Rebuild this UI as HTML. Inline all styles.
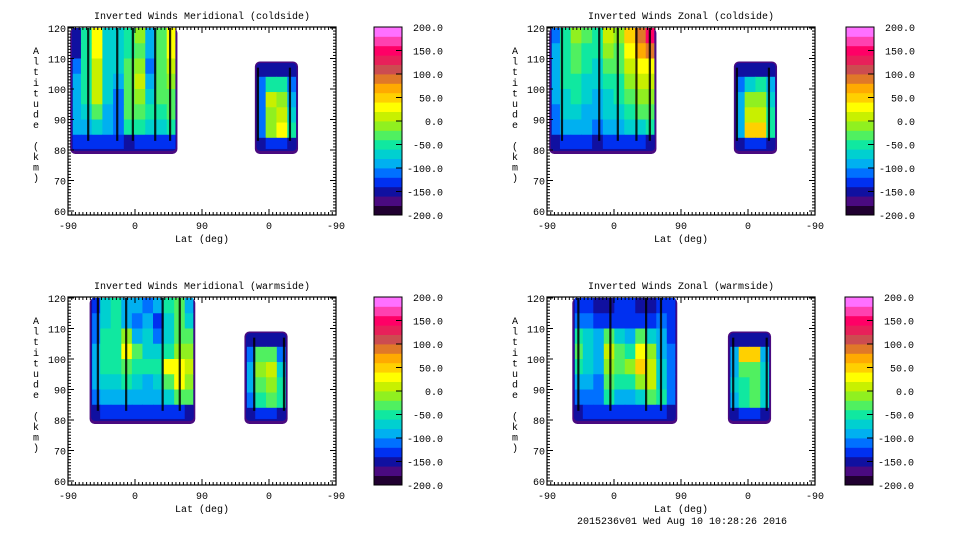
<!DOCTYPE html>
<html><head><meta charset="utf-8"><style>
body{margin:0;background:#fff}
svg{display:block;font-family:"Liberation Mono",monospace}
</style></head><body>
<svg id="chart" width="960" height="540" viewBox="0 0 960 540"></svg>
<script>
const bandColors=["#200030","#4a0a80","#1010a0","#0030f0","#0070ff","#00b0f0","#00d0d0","#10e8a0","#50f060","#90f020","#c8f000","#ffff00","#ffd000","#ffaa00","#e07828","#cc4c50","#e8205a","#ff0066","#ff40b0","#ff70ff"];
const cbarLabels=["200.0","150.0","100.0","50.0","0.0","-50.0","-100.0","-150.0","-200.0"];
const xTickLabels=["-90","0","90","0","-90"];
const yTickLabels=[60,70,80,90,100,110,120];
const leftAlts=[117.5,112.5,107.5,102.5,97.5,92.5,87.5,82.5];
const rightAlts=[106.5,101.5,96.5,91.5,86.5,81.5];
const titles=["Inverted Winds Meridional (coldside)","Inverted Winds Zonal (coldside)","Inverted Winds Meridional (warmside)","Inverted Winds Zonal (warmside)"];
const tlLeft=[[-150,-60,20,-70,-70,-60,-20,-90,-30,20],[-150,-60,20,-70,-80,-60,-30,-100,-30,30],[-120,-60,10,-70,-80,-40,-20,-120,-40,0],[-90,-60,10,-70,-90,-30,10,-90,-40,-20],[-90,-60,0,-80,-110,-40,-20,-70,-40,-30],[-90,-70,-30,-100,-120,-40,-40,-60,-50,-30],[-100,-90,-70,-100,-110,-60,-60,-80,-70,-60],[-140,-140,-140,-140,-140,-150,-130,-130,-130,-140]];
const tlRight=[[-150,-150,-150,-150],[-120,-60,-60,-120],[-110,0,-20,-100],[-110,-10,10,-70],[-110,-20,30,-60],[-150,-140,-140,-150]];
const trLeft=[[-120,-60,-20,-40,-60,0,-20,40,80,140],[-100,-50,-30,-50,-60,-20,-30,20,60,80],[-100,-60,-40,-60,-70,-40,-40,0,20,30],[-90,-60,-50,-70,-80,-60,-50,-20,0,10],[-100,-70,-60,-80,-90,-70,-60,-40,-20,-10],[-110,-80,-70,-90,-100,-80,-70,-60,-40,-30],[-120,-100,-90,-100,-110,-100,-90,-80,-70,-60],[-150,-140,-140,-140,-150,-140,-140,-140,-140,-150]];
const trRight=[[-150,-150,-150,-150],[-110,-80,-60,-100],[-100,-10,-20,-80],[-100,0,10,-60],[-100,40,40,-50],[-150,-140,-140,-150]];
const blLeft=[[-130,-80,-60,-90,-100,-120,-100,-60,-40,-100],[-110,-80,-60,-90,-110,-90,-130,-70,-40,-80],[-110,-60,-60,-20,-100,-80,-120,-80,-30,-40],[-100,-50,-60,20,-30,-70,-80,-60,-10,-20],[-100,-60,-60,-40,-50,-60,-60,20,30,10],[-100,-80,-70,-60,-80,-90,-70,-30,20,-10],[-110,-100,-90,-90,-100,-100,-90,-80,-40,-30],[-150,-140,-140,-140,-140,-140,-140,-140,-140,-150]];
const blRight=[[-150,-150,-150,-150],[-110,-30,-40,-110],[-100,-20,0,-80],[-100,-30,-20,-50],[-110,-50,-40,-60],[-150,-140,-140,-150]];
const brLeft=[[-140,-130,-150,-160,-140,-140,-150,-150,-130,-140],[-120,-120,-130,-140,-130,-140,-130,-140,-120,-130],[-60,-80,-100,-40,-80,-90,-40,-70,-100,-130],[-30,-70,-100,0,-40,-60,20,-20,-90,-120],[-60,-80,-100,-10,-40,-20,40,0,-80,-110],[-90,-100,-110,-30,-60,-50,-20,10,-70,-110],[-110,-110,-120,-60,-90,-100,-80,-30,-60,-110],[-150,-140,-140,-130,-140,-140,-140,-140,-140,-150]];
const brRight=[[-150,-150,-150,-150],[-90,40,50,-100],[-90,-40,-30,-80],[-80,-50,-40,-70],[-90,-50,-40,-80],[-150,-140,-140,-150]];
const tlStripes=[-63,-24,-3,27,47,165,208];
const trStripes=[-70,-20,5,30,48,165,208];
const blStripes=[-50,-12,37,60,160,200];
const brStripes=[-48,-5,43,63,160,205];

const NS="http://www.w3.org/2000/svg";
const svg=document.getElementById('chart');
function mk(tag,attrs,parent){const e=document.createElementNS(NS,tag);for(const k in attrs)e.setAttribute(k,attrs[k]);(parent||svg).appendChild(e);return e;}
function bandIndex(v){return Math.max(0,Math.min(19,Math.floor((v+200)/20)));}

const panels=[
 {x0:68,y0:27,cb:374,title:titles[0],left:tlLeft,right:tlRight,stripes:tlStripes,lx:[-87,57],rx:[161,219],name:'meridional-coldside'},
 {x0:547,y0:27,cb:846,title:titles[1],left:trLeft,right:trRight,stripes:trStripes,lx:[-87,57],rx:[161,219],name:'zonal-coldside'},
 {x0:68,y0:297,cb:374,title:titles[2],left:blLeft,right:blRight,stripes:blStripes,lx:[-61,81],rx:[147,205],name:'meridional-warmside'},
 {x0:547,y0:297,cb:845,title:titles[3],left:brLeft,right:brRight,stripes:brStripes,lx:[-56,85],rx:[153,211],name:'zonal-warmside'}
];
const W=268,H=188;
panels.forEach(p=>{
 const g=mk('g',{});
 
 
 const xs=t=>p.x0+(t+90)/360*W;
 const ys=a=>p.y0+1-(a-120)*3.05;
 const t=mk('text',{x:p.x0+W/2,y:p.y0-8,'text-anchor':'middle','font-size':10},g);t.textContent=p.title;
 
 const clip='c'+p.name;const cp=mk('clipPath',{id:clip},g);mk('rect',{x:p.x0,y:p.y0,width:W,height:H},cp);
 const field=mk('g',{'clip-path':'url(#'+clip+')'},g);
 
 function block(vals,alts,ext,top,name){
  const bg=mk('g',{},field);
  const nc=vals[0].length,cw=(ext[1]-ext[0])/nc;
  mk('rect',{x:xs(ext[0]),y:ys(top),width:xs(ext[1])-xs(ext[0]),height:ys(78.7)-ys(top),rx:5,fill:bandColors[1]},bg);
  mk('rect',{x:xs(ext[0])+1.5,y:ys(top)+(top<120?1.5:0),width:xs(ext[1])-xs(ext[0])-3,height:ys(79.7)-ys(top)-(top<120?1.5:0),rx:4,fill:bandColors[2]},bg);
  const step=alts[0]-alts[1];
  vals.forEach((row,ri)=>row.forEach((v,ci)=>{
   const a1=Math.min(top-(top<120?1:0),alts[ri]+step/2),a0=Math.max(80.5,alts[ri]-step/2);
   const x1=xs(ext[0]+ci*cw)+(ci==0?2.5:0),x2=xs(ext[0]+(ci+1)*cw)-(ci==nc-1?2.5:0);
   const r=mk('rect',{x:x1,y:ys(a1),width:x2-x1+0.5,height:ys(a0)-ys(a1)+0.5,fill:bandColors[bandIndex(v)]},bg);
   
   
  }));
 }
 block(p.left,leftAlts,p.lx,120,'left-track-block');
 block(p.right,rightAlts,p.rx,109,'right-track-block');
 p.stripes.forEach(s=>{
  const top=s>120?107:120;
  const l=mk('rect',{x:xs(s)-1,y:ys(top),width:2.2,height:ys(83)-ys(top),fill:'#000',opacity:0.85},field);
  
  
 });
 const fr=mk('rect',{x:p.x0,y:p.y0,width:W,height:H,fill:'none',stroke:'#000','stroke-width':1.2},g);
 
 for(let a=60;a<=120;a++){const y=ys(a);const L=a%10==0?6:3;
  mk('line',{x1:p.x0,x2:p.x0+L,y1:y,y2:y,stroke:'#000'},g);mk('line',{x1:p.x0+W,x2:p.x0+W-L,y1:y,y2:y,stroke:'#000'},g);}
 yTickLabels.forEach(a=>{const tx=mk('text',{x:p.x0-2,y:ys(a)+4,'text-anchor':'end','font-size':10},g);tx.textContent=a;
  });
 for(let k=0;k<=72;k++){const x=p.x0+k*W/72;const L=k%18==0?6:3;
  mk('line',{x1:x,x2:x,y1:p.y0+H,y2:p.y0+H-L,stroke:'#000'},g);mk('line',{x1:x,x2:x,y1:p.y0,y2:p.y0+L,stroke:'#000'},g);}
 xTickLabels.forEach((s,i)=>{const tx=mk('text',{x:p.x0+i*W/4,y:p.y0+H+14,'text-anchor':'middle','font-size':10},g);tx.textContent=s;
  });
 const xl=mk('text',{x:p.x0+W/2,y:p.y0+H+27,'text-anchor':'middle','font-size':10},g);xl.textContent='Lat (deg)';
 
 const yl=mk('g',{},g);
 'Altitude (km)'.split('').forEach((c,i)=>{const tx=mk('text',{x:p.x0-32,y:p.y0+27+i*10.6,'text-anchor':'middle','font-size':10},yl);tx.textContent=c;});
 const cb=mk('g',{},g);
 const bh=H/20;
 bandColors.forEach((c,i)=>{mk('rect',{x:p.cb,y:p.y0+H-(i+1)*bh,width:28,height:bh+0.4,fill:c},cb);});
 mk('rect',{x:p.cb,y:p.y0,width:28,height:H,fill:'none',stroke:'#000'},cb);
 cbarLabels.forEach((s,i)=>{const y=p.y0+i*H/8;
  if(i>0&&i<8)mk('line',{x1:p.cb+22,x2:p.cb+28,y1:y,y2:y,stroke:'#000'},cb);
  const tx=mk('text',{x:p.cb+69,y:y+4,'text-anchor':'end','font-size':10},cb);tx.textContent=s;
  });
});
const ft=mk('text',{x:682,y:524,'text-anchor':'middle','font-size':10});ft.textContent='2015236v01 Wed Aug 10 10:28:26 2016';

</script>
</body></html>
